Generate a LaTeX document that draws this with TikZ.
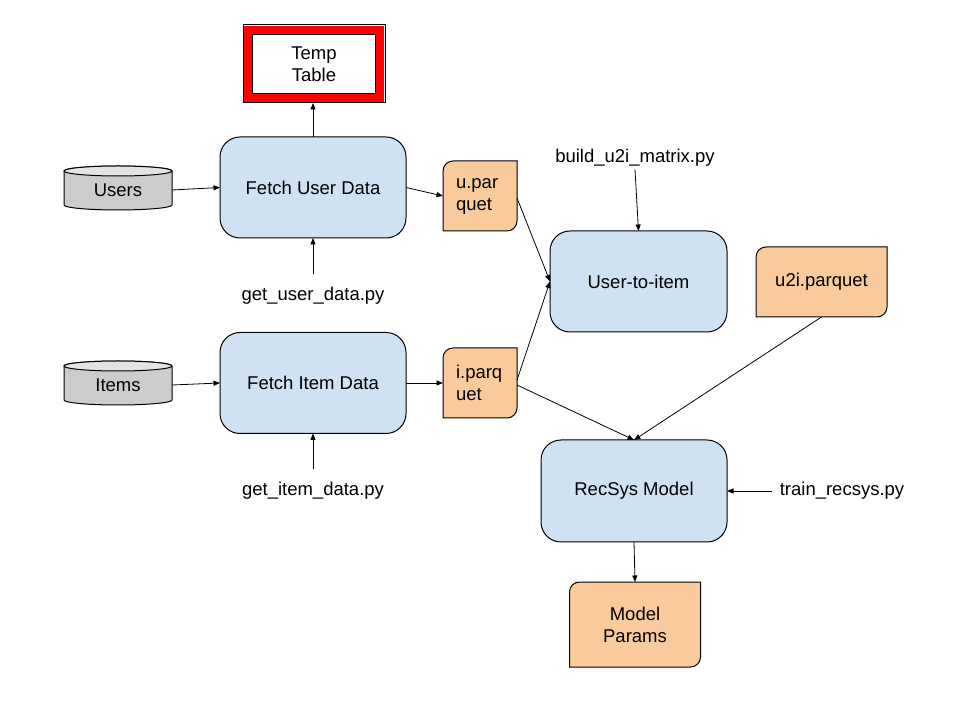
\documentclass[tikz,border=0pt]{standalone}
\usepackage{fontspec}
\setmainfont{Liberation Sans}
\usetikzlibrary{arrows.meta,calc,backgrounds}
\definecolor{boxblue}{HTML}{CFE2F3}
\definecolor{docorange}{HTML}{F9CB9C}
\definecolor{cylbody}{HTML}{CCCCCC}
\definecolor{cyltop}{HTML}{E3E3E3}
\definecolor{tempred}{HTML}{FF0000}
\newcommand\mydocshape[1]{%
  \begin{scope}[on background layer]
  \path[fill=docorange,draw=black,line width=1pt]
    ($(#1.north west)+(0,-10)$) arc[start angle=180,end angle=90,radius=10]
    -- (#1.north east) -- ($(#1.south east)+(0,10)$)
    arc[start angle=0,end angle=-90,radius=10] -- (#1.south west) -- cycle;
  \end{scope}}
\newcommand\mycyl[4]{% cx, topY, bottomY, rx
  \begin{scope}[on background layer]
  \path[fill=cylbody,draw=black,line width=1pt]
    ({#1-#4},#2) -- ({#1-#4},#3) arc[start angle=180,end angle=360,x radius=#4,y radius=5]
    -- ({#1+#4},#2) arc[start angle=0,end angle=180,x radius=#4,y radius=5] -- cycle;
  \path[fill=cyltop,draw=black,line width=1pt] (#1,#2) ellipse[x radius=#4,y radius=5];
  \end{scope}}
\tikzset{
  every node/.style={font=\fontsize{18.5}{22}\selectfont, outer sep=0pt},
  procbox/.style={draw=black,line width=1pt,fill=boxblue,rounded corners=20pt,
    minimum width=186pt,minimum height=101pt,align=center},
  docbox/.style={minimum width=#1,minimum height=70pt,inner sep=0pt},
  cylbox/.style={minimum width=108pt,minimum height=44pt},
  lbl/.style={inner sep=3pt},
  arr/.style={-{Triangle[length=6.5pt,width=5pt]},line width=0.8pt,black},
}
\begin{document}
\begin{tikzpicture}[x=1pt,y=1pt]
\begin{scope}[on background layer]
\fill[white] (0,0) rectangle (960,720);
\end{scope}
\useasboundingbox (0,0) rectangle (960,720);

% Temp table
\node[draw=black,line width=1pt,fill=white,minimum width=142pt,minimum height=78pt,align=center] (tt) at (314,656) {Temp\\Table};
\draw[tempred,line width=8.5pt] ($(tt.south west)+(4.9,4.9)$) rectangle ($(tt.north east)-(4.9,4.9)$);
\draw[black,line width=1pt] ($(tt.south west)+(9.5,9.5)$) rectangle ($(tt.north east)-(9.5,9.5)$);
\draw[black,line width=1pt] (tt.south west) rectangle (tt.north east);

% cylinders
\node[cylbox] (users) at (118,530) {Users};
\mycyl{118}{549}{515}{54}
\node[cylbox] (items) at (118,335) {Items};
\mycyl{118}{354}{320}{54}

% process boxes
\node[procbox] (fu) at (313,532.5) {Fetch User Data};
\node[procbox] (fi) at (313,337) {Fetch Item Data};
\node[procbox,minimum width=177pt] (ui) at (638.5,438.5) {User-to-item};
\node[procbox,minimum height=102pt] (rec) at (634,229) {RecSys Model};

% documents
\node[docbox=74pt] (up) at (480,524) {};
\node[anchor=west,align=left,inner sep=0pt] (uptxt) at (456,524) {u.par\\quet};
\mydocshape{up}
\node[docbox=74pt] (ip) at (480,337) {};
\node[anchor=west,align=left,inner sep=0pt] (iptxt) at (456,337) {i.parq\\uet};
\mydocshape{ip}
\node[docbox=131pt] (u2i) at (821.5,438) {u2i.parquet};
\mydocshape{u2i}
\node[docbox=131pt,minimum height=85pt,align=center] (mp) at (635,95.5) {Model\\Params};
\mydocshape{mp}

% labels
\node[lbl] (gu) at (313,424) {get\_user\_data.py};
\node[lbl] (gi) at (313,229) {get\_item\_data.py};
\node[lbl] (bu) at (635,562) {build\_u2i\_matrix.py};
\node[lbl] (tr) at (842,229) {train\_recsys.py};

% connectors
\draw[arr] (fu.north) -- (fu.north |- tt.south);
\draw[arr] (users.east) -- (fu.west);
\draw[arr] (items.east) -- (fi.west);
\draw[arr] (fu.east) -- (up.west);
\draw[arr] (fi.east) -- (ip.west);
\draw[arr,shorten <=10pt] (gu.north) -- (fu.south);
\draw[arr,shorten <=10pt] (gi.north) -- (fi.south);
\draw[arr] (bu.south) -- (ui.north);
\draw[arr] ($(up.east)+(0,-2)$) -- (ui.west);
\draw[arr] ($(ip.east)+(0,3)$) -- (ui.west);
\draw[arr] ($(ip.east)+(0,-2)$) -- (rec.north);
\draw[arr] (u2i.south) -- (rec.north);
\draw[arr,shorten <=5pt] (tr.west) -- (rec.east);
\draw[arr] (rec.south) -- (mp.north);
\end{tikzpicture}
\end{document}
